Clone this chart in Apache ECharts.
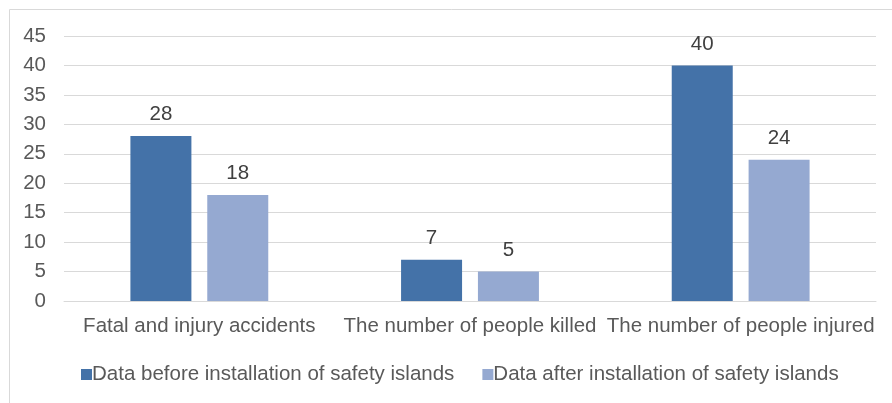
<!DOCTYPE html>
<html>
<head>
<meta charset="utf-8">
<script src="https://cdn.jsdelivr.net/npm/echarts@6/dist/echarts.min.js"></script>
<style>
  html, body { margin: 0; padding: 0; background: #fff; }
  #chart { width: 892px; height: 403px; }
</style>
</head>
<body>
<div id="chart"></div>
<script>
const categories = ['Fatal and injury accidents', 'The number of people killed', 'The number of people injured'];
const beforeValues = [28, 7, 40];
const afterValues = [18, 5, 24];
const seriesNames = ['Data before installation of safety islands', 'Data after installation of safety islands'];

const chart = echarts.init(document.getElementById('chart'));
const fontFamily = '"Liberation Sans", Arial, sans-serif';

chart.setOption({
  animation: false,
  textStyle: { fontFamily: fontFamily },
  graphic: [{
    type: 'rect',
    left: 7, top: 7,
    shape: { width: 900, height: 420 },
    style: { fill: 'none', stroke: '#d9d9d9', lineWidth: 1 },
    silent: true
  }],
  grid: { left: 64, right: 16, top: 36, bottom: 102 },
  legend: {
    top: 359,
    left: 76,
    itemWidth: 11, itemHeight: 11,
    itemGap: 28,
    icon: 'rect',
    textStyle: { color: '#595959', fontSize: 20.5, fontFamily: fontFamily, padding: [0, 0, 0, -5] },
    data: seriesNames
  },
  xAxis: {
    type: 'category',
    data: categories,
    axisTick: { show: false },
    axisLine: { lineStyle: { color: '#d9d9d9' } },
    axisLabel: { color: '#595959', fontSize: 20.5, margin: 15, interval: 0 }
  },
  yAxis: {
    type: 'value',
    min: 0, max: 45, interval: 5,
    axisLabel: { color: '#595959', fontSize: 20.5, margin: 18 },
    splitLine: { lineStyle: { color: '#d9d9d9' } }
  },
  series: [
    {
      name: seriesNames[0],
      type: 'bar',
      data: beforeValues,
      barWidth: 61,
      barGap: '26%',
      itemStyle: { color: '#4472a8' },
      label: { show: true, position: 'top', distance: 11, color: '#404040', fontSize: 20.5 }
    },
    {
      name: seriesNames[1],
      type: 'bar',
      data: afterValues,
      barWidth: 61,
      itemStyle: { color: '#95a9d1' },
      label: { show: true, position: 'top', distance: 11, color: '#404040', fontSize: 20.5 }
    }
  ]
});
</script>
</body>
</html>
